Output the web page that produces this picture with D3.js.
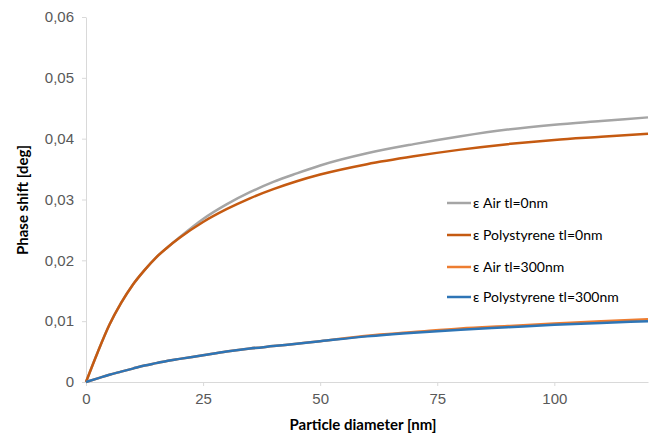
<!DOCTYPE html>
<html>
<head>
<meta charset="utf-8">
<script src="https://cdn.jsdelivr.net/npm/d3@7"></script>
<style>
  body { margin: 0; background: #fff; overflow: hidden; }
  svg { display: block; font-family: Lato, "Open Sans", sans-serif; }
</style>
</head>
<body>
<div id="chart"></div>
<script>
// particle diameter (nm)
const diameters = [0, 2.5, 5, 7.5, 10, 12.5, 15, 17.5, 20, 25, 30, 35, 40, 45, 50, 60, 70, 80, 90, 100, 110, 120];

// phase shift (deg)
const airTl0 = [0, 0.0049, 0.0094, 0.0130, 0.0160, 0.0184, 0.0205, 0.0222, 0.0238, 0.0268, 0.0292, 0.0312, 0.0329, 0.0343, 0.0356, 0.0376, 0.0391, 0.0404, 0.0415, 0.0423, 0.0429, 0.0435];
const polyTl0 = [0, 0.0049, 0.0094, 0.0130, 0.0160, 0.0184, 0.0205, 0.0222, 0.0237, 0.0263, 0.0284, 0.0302, 0.0317, 0.0330, 0.0341, 0.0358, 0.0371, 0.0382, 0.0391, 0.0398, 0.0403, 0.0408];
const airTl300 = [0, 0.0006, 0.0012, 0.0017, 0.0022, 0.0027, 0.0031, 0.0035, 0.0038, 0.0044, 0.0050, 0.0055, 0.0059, 0.0063, 0.0067, 0.0076, 0.0082, 0.0088, 0.0092, 0.0096, 0.0100, 0.0103];
const polyTl300 = [0, 0.0006, 0.0012, 0.0017, 0.0022, 0.0027, 0.0031, 0.0035, 0.0038, 0.0044, 0.0050, 0.0055, 0.0059, 0.0063, 0.0067, 0.0075, 0.0081, 0.0086, 0.0090, 0.0094, 0.0097, 0.0100];

const seriesNames = ["ε Air tl=0nm", "ε Polystyrene tl=0nm", "ε Air tl=300nm", "ε Polystyrene tl=300nm"];
const seriesValues = [airTl0, polyTl0, airTl300, polyTl300];
const seriesColors = ["#a5a5a5", "#c55a11", "#ed7d31", "#2e75b6"];

const xTicks = [0, 25, 50, 75, 100];
const yTicks = [0, 0.01, 0.02, 0.03, 0.04, 0.05, 0.06];

const width = 651, height = 439;
const margin = { top: 17, right: 3, bottom: 57, left: 86 };
const innerWidth = width - margin.left - margin.right;
const innerHeight = height - margin.top - margin.bottom;

const svg = d3.select("#chart")
  .append("svg")
  .attr("width", width)
  .attr("height", height);

const g = svg.append("g")
  .attr("transform", `translate(${margin.left}, ${margin.top})`);

const xScale = d3.scaleLinear().domain([0, 120]).range([0, innerWidth]);
const yScale = d3.scaleLinear().domain([0, 0.06]).range([innerHeight, 0]);

// axes
const xAxis = d3.axisBottom(xScale).tickValues(xTicks).tickSize(4).tickPadding(4).tickSizeOuter(0);
const yAxis = d3.axisLeft(yScale).tickValues(yTicks).tickSize(4).tickPadding(8).tickSizeOuter(0)
  .tickFormat(d => d === 0 ? "0" : d3.format(".2f")(d).replace(".", ","));

const gx = g.append("g")
  .attr("transform", `translate(0, ${innerHeight})`)
  .call(xAxis);
const gy = g.append("g").call(yAxis);

[gx, gy].forEach(a => {
  a.selectAll("path, line").attr("stroke", "#d9d9d9");
  a.selectAll("text").attr("fill", "#595959").style("font-size", "15px");
});
gx.selectAll("text").attr("dy", "0.9em");

// lines
const line = d3.line()
  .x((d, i) => xScale(diameters[i]))
  .y(d => yScale(d))
  .curve(d3.curveMonotoneX);

seriesValues.forEach((vals, i) => {
  g.append("path")
    .datum(vals)
    .attr("fill", "none")
    .attr("stroke", seriesColors[i])
    .attr("stroke-width", 2.5)
    .attr("d", line);
});

// axis titles
svg.append("text")
  .attr("x", margin.left + innerWidth / 2 - 4)
  .attr("y", 430)
  .attr("text-anchor", "middle")
  .style("font-size", "15px")
  .style("font-weight", "bold")
  .attr("fill", "#000")
  .text("Particle diameter [nm]");

svg.append("text")
  .attr("transform", "rotate(-90)")
  .attr("x", -200)
  .attr("y", 28)
  .attr("text-anchor", "middle")
  .style("font-size", "15px")
  .style("font-weight", "bold")
  .attr("fill", "#000")
  .text("Phase shift [deg]");

// legend
const legendY = [203, 235, 267, 297];
const legend = svg.append("g");
seriesNames.forEach((name, i) => {
  legend.append("line")
    .attr("x1", 447).attr("x2", 471)
    .attr("y1", legendY[i]).attr("y2", legendY[i])
    .attr("stroke", seriesColors[i])
    .attr("stroke-width", 2.5);
  legend.append("text")
    .attr("x", 473)
    .attr("y", legendY[i])
    .attr("dy", "0.35em")
    .style("font-size", "14px")
    .attr("fill", "#000")
    .text(name);
});
</script>
</body>
</html>
